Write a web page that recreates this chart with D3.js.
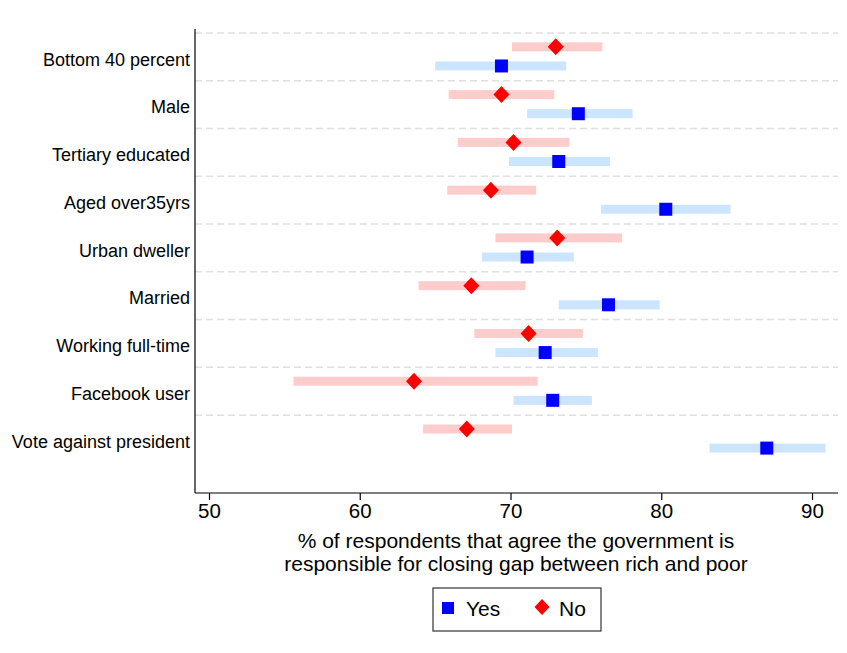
<!DOCTYPE html>
<html>
<head>
<meta charset="utf-8">
<style>
  body { margin: 0; background: #fff; }
  svg { font-family: 'Liberation Sans', Arial, sans-serif; }
</style>
</head>
<body>
<svg width="847" height="653"></svg>
<script src="https://d3js.org/d3.v7.min.js"></script>
<script>
// data
const categories = ["Bottom 40 percent", "Male", "Tertiary educated", "Aged over35yrs",
  "Urban dweller", "Married", "Working full-time", "Facebook user", "Vote against president"];
const yesMean = [69.4, 74.5, 73.2, 80.3, 71.1, 76.5, 72.3, 72.8, 87.0];
const yesLow  = [65.0, 71.1, 69.9, 76.0, 68.1, 73.2, 69.0, 70.2, 83.2];
const yesHigh = [73.7, 78.1, 76.6, 84.6, 74.2, 79.9, 75.8, 75.4, 90.9];
const noMean  = [73.0, 69.4, 70.2, 68.7, 73.1, 67.4, 71.2, 63.6, 67.1];
const noLow   = [70.1, 65.9, 66.5, 65.8, 69.0, 63.9, 67.6, 55.6, 64.2];
const noHigh  = [76.1, 72.9, 73.9, 71.7, 77.4, 71.0, 74.8, 71.8, 70.1];
const xTicks = [50, 60, 70, 80, 90];
const xTitle = ["% of respondents that agree the government is",
  "responsible for closing gap between rich and poor"];

const svg = d3.select("svg");
const plotLeft = 195, plotRight = 838, plotTop = 33, plotBottom = 493;

let x = d3.scaleLinear().domain([50, 90]).range([209, 812]);
// each category takes one unit, red row above blue row
let y = d3.scaleLinear().domain([0, 9.63]).range([plotTop, plotBottom]);

// dashed separators
svg.append("g")
  .selectAll("line")
  .data(categories)
  .join("line")
  .attr("x1", plotLeft).attr("x2", plotRight)
  .attr("y1", (d, i) => y(i)).attr("y2", (d, i) => y(i))
  .attr("stroke", "#e0e0e0")
  .attr("stroke-width", 1.5)
  .attr("stroke-dasharray", "7,4");

const series = [
  { name: "No", mean: noMean, low: noLow, high: noHigh, off: 0.29, bar: "#ffcccc", mark: "#ff0000" },
  { name: "Yes", mean: yesMean, low: yesLow, high: yesHigh, off: 0.69, bar: "#cce5ff", mark: "#0000ff" }
];

series.forEach(s => {
  let g = svg.append("g");
  g.selectAll("rect")
    .data(categories)
    .join("rect")
    .attr("x", (d, i) => x(s.low[i]))
    .attr("width", (d, i) => x(s.high[i]) - x(s.low[i]))
    .attr("y", (d, i) => y(i + s.off) - 4.5)
    .attr("height", 9)
    .attr("fill", s.bar);
  g.selectAll("path")
    .data(categories)
    .join("path")
    .attr("transform", (d, i) => `translate(${x(s.mean[i])},${y(i + s.off)})`)
    .attr("d", s.name == "Yes" ? "M-6.5,-6.5H6.5V6.5H-6.5Z" : "M0,-8.5L8,0L0,8.5L-8,0Z")
    .attr("fill", s.mark);
});

// axes
svg.append("line").attr("x1", plotLeft).attr("x2", plotLeft).attr("y1", 29).attr("y2", plotBottom)
  .attr("stroke", "#000").attr("stroke-width", 1.2);
svg.append("line").attr("x1", plotLeft).attr("x2", plotRight).attr("y1", plotBottom).attr("y2", plotBottom)
  .attr("stroke", "#000").attr("stroke-width", 1.2);

let xAxis = svg.append("g")
  .attr("transform", `translate(0,${plotBottom})`)
  .call(d3.axisBottom(x).tickValues(xTicks).tickSize(7).tickPadding(3).tickFormat(d3.format("d")));
xAxis.select(".domain").remove();
xAxis.selectAll("text").attr("font-size", 20.5).attr("fill", "#000").attr("font-family", "'Liberation Sans', Arial, sans-serif");
xAxis.selectAll("line").attr("stroke", "#000").attr("stroke-width", 1.2);

svg.append("g")
  .selectAll("text")
  .data(categories)
  .join("text")
  .attr("x", 190)
  .attr("y", (d, i) => y(i + 0.55))
  .attr("dy", "0.35em")
  .attr("text-anchor", "end")
  .attr("font-size", 18)
  .text(d => d);

// axis title, two lines
svg.append("g")
  .attr("text-anchor", "middle")
  .attr("font-size", 21)
  .selectAll("text")
  .data(xTitle)
  .join("text")
  .attr("x", 516)
  .attr("y", (d, i) => 548 + i * 22.5)
  .text(d => d);

// legend
let lg = svg.append("g");
lg.append("rect").attr("x", 433).attr("y", 588).attr("width", 168).attr("height", 43)
  .attr("fill", "#fff").attr("stroke", "#333").attr("stroke-width", 1.2);
lg.append("path").attr("transform", "translate(448,608)").attr("d", "M-6,-6H6V6H-6Z").attr("fill", "#0000ff");
lg.append("text").attr("x", 466).attr("y", 616).attr("font-size", 21).text("Yes");
lg.append("path").attr("transform", "translate(542,607)").attr("d", "M0,-8L7.5,0L0,8L-7.5,0Z").attr("fill", "#ff0000");
lg.append("text").attr("x", 559).attr("y", 616).attr("font-size", 21).text("No");
</script>
</body>
</html>
